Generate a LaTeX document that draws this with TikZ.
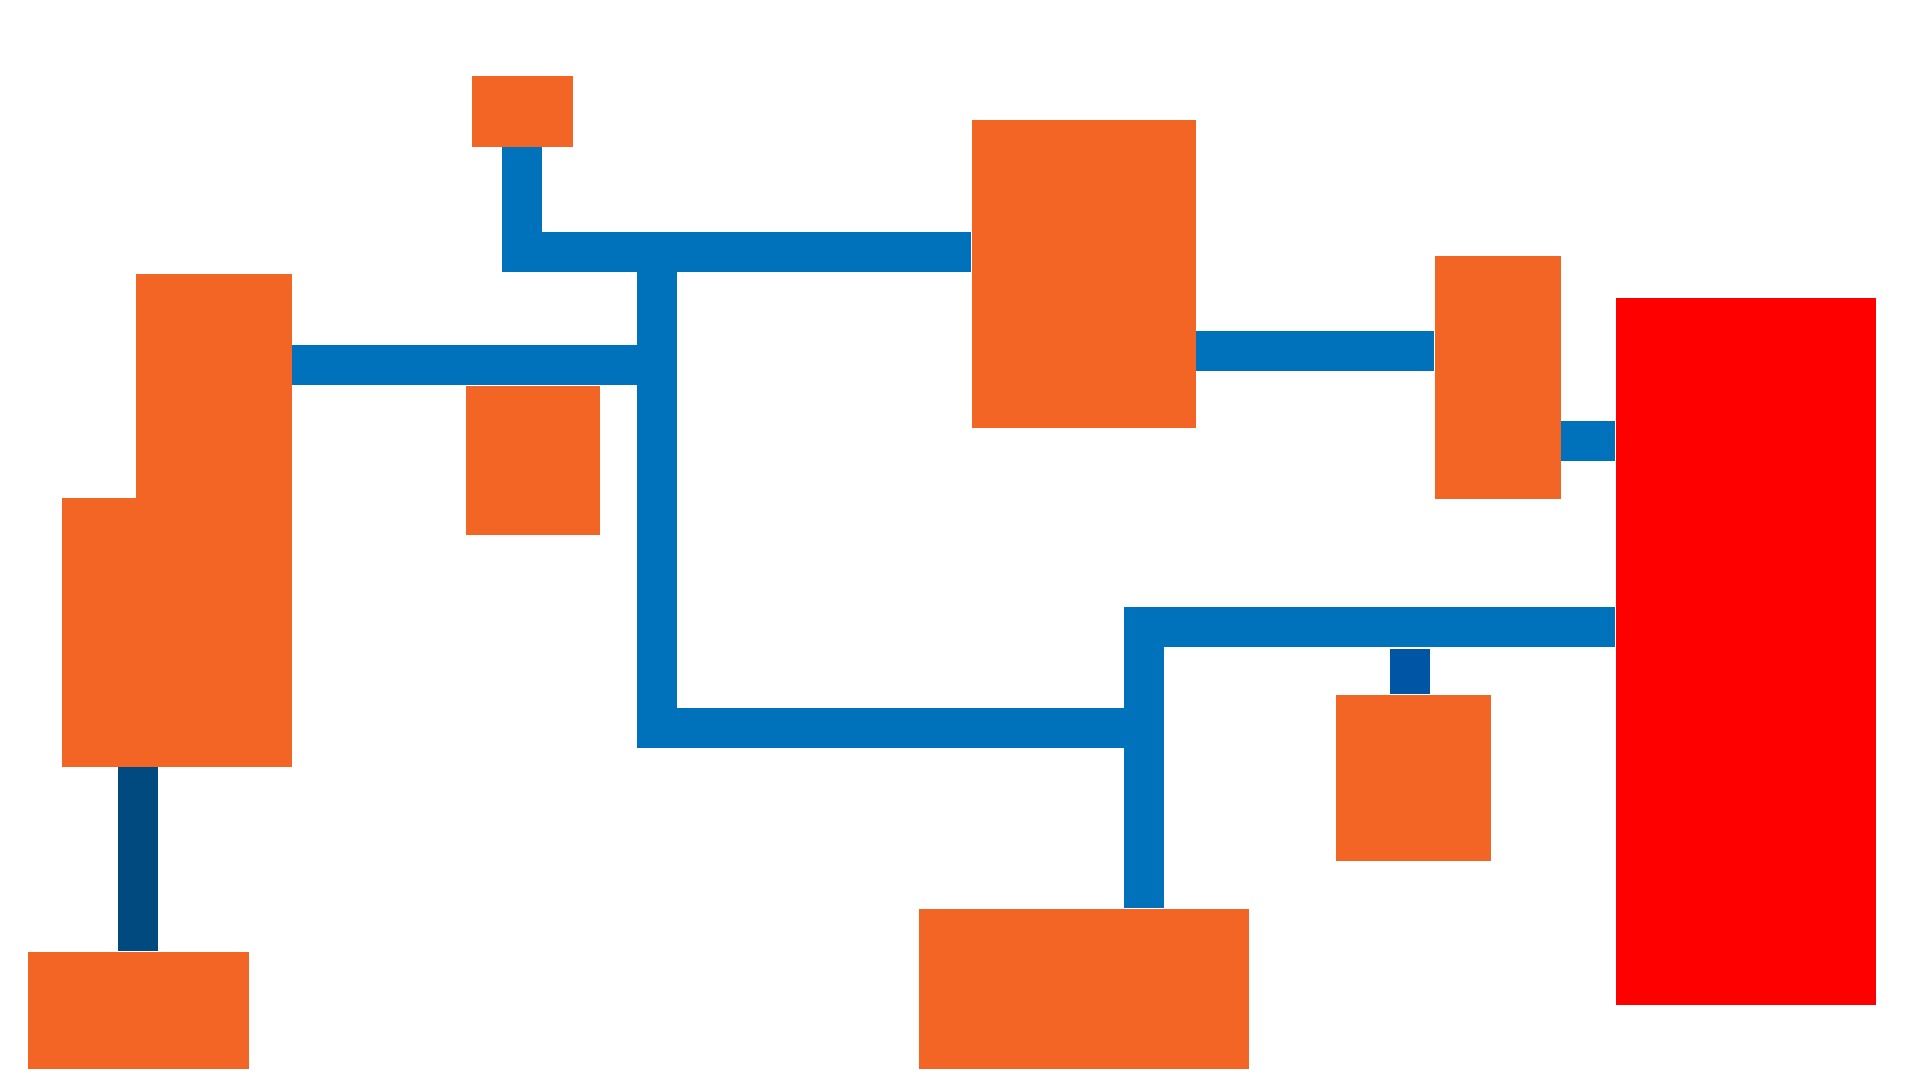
\documentclass[tikz,border=0pt]{standalone}
\usepackage{tikz}
\usetikzlibrary{arrows}

\definecolor{boxorange}{HTML}{F26524}
\definecolor{pipeblue}{HTML}{0072BC}
\definecolor{stubblue}{HTML}{0055A5}
\definecolor{darkblue}{HTML}{004A80}
\definecolor{hotred}{HTML}{FF0000}

\begin{document}
\begin{tikzpicture}[x=0.1mm,y=-0.1mm,
  box/.style={rectangle,fill=boxorange,draw=none,inner sep=0pt,anchor=north west},
  hot/.style={box,fill=hotred},
  pipe/.style={draw=pipeblue,line width=4mm,line cap=butt,line join=miter},
  stub/.style={pipe,draw=stubblue},
  drop/.style={pipe,draw=darkblue}]

  \useasboundingbox[fill=white] (0,0) rectangle (1920,1080);

% define the boxes
  \node[box, minimum width=10.1mm, minimum height=7.1mm]  (top)      at (471,75)   {};
  \node[box, minimum width=22.4mm, minimum height=30.8mm] (mid)      at (971,119)  {};
  \node[box, minimum width=12.6mm, minimum height=24.3mm] (rmid)     at (1434,255) {};
  \node[box, minimum width=15.6mm, minimum height=49.3mm] (lefttall) at (135,273)  {};
  \node[box, minimum width=23.0mm, minimum height=26.9mm] (leftlow)  at (61,497)   {};
  \node[box, minimum width=13.4mm, minimum height=14.9mm] (lsmall)   at (465,385)  {};
  \node[box, minimum width=15.5mm, minimum height=16.6mm] (sbox)     at (1335,694) {};
  \node[box, minimum width=33.0mm, minimum height=16.0mm] (bmid)     at (918,908)  {};
  \node[box, minimum width=22.1mm, minimum height=11.7mm] (bleft)    at (27,951)   {};
  \node[hot, minimum width=26.0mm, minimum height=70.7mm] (red)      at (1615,297) {};

% free ends of the pipes
  \coordinate (jtop)    at (657,252);
  \coordinate (jright)  at (1144,728);
  \coordinate (stubtop) at (1410,649);

% define the links
  \draw[pipe] (top.south) |- (mid.west |- 0,252);
  \draw[pipe] (jtop) |- (jright);
  \draw[pipe] (lefttall.east |- 0,365) -- (jtop |- 0,365);
  \draw[pipe] (red.west |- 0,627) -| (bmid.north -| jright);
  \draw[pipe] (mid.east |- 0,351) -- (rmid.west |- 0,351);
  \draw[pipe] (rmid.east |- 0,441) -- (red.west |- 0,441);
  \draw[stub] (sbox.north -| stubtop) -- (stubtop);
  \draw[drop] (bleft.north) -- (bleft.north |- leftlow.south);

\end{tikzpicture}
\end{document}
